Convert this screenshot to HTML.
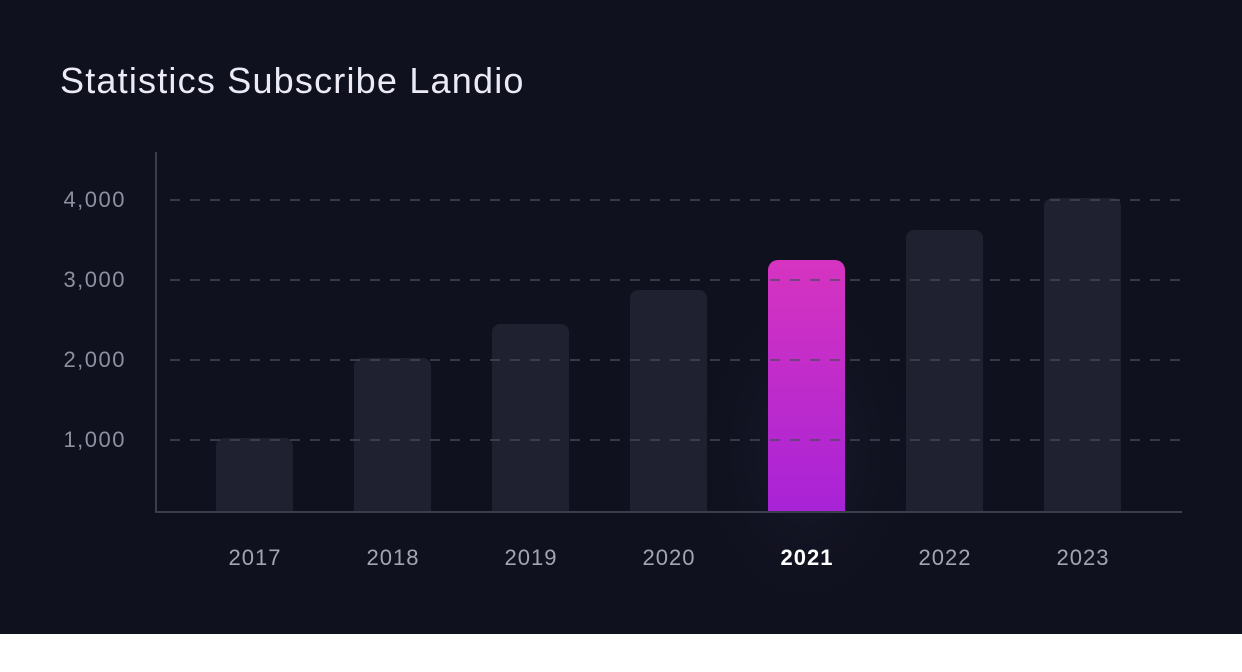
<!DOCTYPE html>
<html><head><style>
body{margin:0;width:1242px;height:672px;background:#fff;overflow:hidden;font-family:"Liberation Sans",sans-serif}
#c{position:absolute;left:0;top:0;width:1242px;height:634px;background:#10111f}
.t{position:absolute;left:60px;top:60px;font-size:36px;color:#ecebf5;letter-spacing:1.2px}
.y{position:absolute;left:30px;width:96px;text-align:right;font-size:22px;color:#8e8fa0;letter-spacing:1.5px}
.x{position:absolute;top:545px;width:120px;text-align:center;font-size:22px;color:#a4a5b3;letter-spacing:1px}
</style></head><body><div id="c">
<div class="t">Statistics Subscribe Landio</div>
<svg width="1242" height="634" style="position:absolute;left:0;top:0">
<defs><linearGradient id="g" x1="0" y1="0" x2="0" y2="1"><stop offset="0" stop-color="#d634c0"/><stop offset="1" stop-color="#a823d6"/></linearGradient>
<radialGradient id="h"><stop offset="0" stop-color="#1a1b2c"/><stop offset="1" stop-color="#10111f" stop-opacity="0"/></radialGradient></defs>
<ellipse cx="806" cy="450" rx="120" ry="180" fill="url(#h)"/>
<g fill="#1f2131">
<path d="M216 511V446a8 8 0 0 1 8-8h61a8 8 0 0 1 8 8V511z"/>
<path d="M354 511V366a8 8 0 0 1 8-8h61a8 8 0 0 1 8 8V511z"/>
<path d="M492 511V332a8 8 0 0 1 8-8h61a8 8 0 0 1 8 8V511z"/>
<path d="M630 511V298a8 8 0 0 1 8-8h61a8 8 0 0 1 8 8V511z"/>
<path d="M906 511V238a8 8 0 0 1 8-8h61a8 8 0 0 1 8 8V511z"/>
<path d="M1044 511V206a8 8 0 0 1 8-8h61a8 8 0 0 1 8 8V511z"/>
</g>
<path d="M768 511V270a10 10 0 0 1 10-10h57a10 10 0 0 1 10 10V511z" fill="url(#g)"/>
<g stroke="#4a4b5c" stroke-width="1.5" stroke-dasharray="10 10" opacity="0.9">
<line x1="170" y1="200" x2="1182" y2="200"/><line x1="170" y1="280" x2="1182" y2="280"/>
<line x1="170" y1="360" x2="1182" y2="360"/><line x1="170" y1="440" x2="1182" y2="440"/>
</g>
<g stroke="#3b3c4c" stroke-width="2"><line x1="156" y1="152" x2="156" y2="512"/><line x1="155" y1="512" x2="1182" y2="512"/></g>
</svg>
<div class="y" style="top:187px">4,000</div><div class="y" style="top:267px">3,000</div>
<div class="y" style="top:347px">2,000</div><div class="y" style="top:427px">1,000</div>
<div class="x" style="left:195px">2017</div><div class="x" style="left:333px">2018</div>
<div class="x" style="left:471px">2019</div><div class="x" style="left:609px">2020</div>
<div class="x" style="left:747px;color:#fff;font-weight:bold">2021</div><div class="x" style="left:885px">2022</div>
<div class="x" style="left:1023px">2023</div>
</div></body></html>
